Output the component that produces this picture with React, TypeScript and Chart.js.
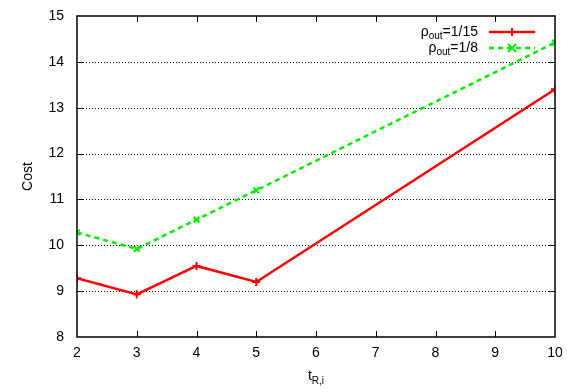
import React, { useEffect, useRef } from "react";
import { Chart, registerables } from "chart.js";

Chart.register(...registerables);

const xValues = [2, 3, 4, 5, 10];
const rho15Values = [9.28, 8.93, 9.55, 9.2, 13.4];
const rho8Values = [10.28, 9.92, 10.56, 11.2, 14.42];
const seriesNames = ["=1/15", "=1/8"];
const yTitle = "Cost";

const FONT = "'Liberation Sans', Arial, sans-serif";
const RED = "#ff0000";
const GREEN = "#00ee00";

const gridPlugin = {
  id: "dotgrid",
  beforeDatasetsDraw(chart: any) {
    const { ctx, chartArea: a, scales } = chart;
    ctx.save();
    ctx.strokeStyle = "#000";
    ctx.lineWidth = 1;
    ctx.setLineDash([1, 2]);
    ctx.beginPath();
    for (let v = 9; v < 15; v++) {
      const y = Math.round(scales.y.getPixelForValue(v)) + 0.5;
      ctx.moveTo(a.left, y);
      ctx.lineTo(a.right, y);
    }
    ctx.stroke();
    ctx.restore();
  },
};

const framePlugin = {
  id: "frame",
  afterDatasetsDraw(chart: any) {
    const { ctx, chartArea: a, scales } = chart;
    ctx.save();
    ctx.strokeStyle = "#000";
    ctx.lineWidth = 1;
    const tl = 6;
    ctx.beginPath();
    for (let v = 3; v < 10; v++) {
      const x = Math.round(scales.x.getPixelForValue(v)) + 0.5;
      ctx.moveTo(x, a.bottom);
      ctx.lineTo(x, a.bottom - tl);
      ctx.moveTo(x, a.top);
      ctx.lineTo(x, a.top + tl);
    }
    for (let v = 9; v < 15; v++) {
      const y = Math.round(scales.y.getPixelForValue(v)) + 0.5;
      ctx.moveTo(a.left, y);
      ctx.lineTo(a.left + tl, y);
      ctx.moveTo(a.right, y);
      ctx.lineTo(a.right - tl, y);
    }
    ctx.stroke();
    ctx.lineWidth = 1.5;
    ctx.strokeRect(a.left, a.top, a.right - a.left, a.bottom - a.top);

    // legend
    const rows = [
      { label: seriesNames[0], color: RED, dash: [], style: "cross", y: 32 },
      { label: seriesNames[1], color: GREEN, dash: [5, 4], style: "crossRot", y: 48 },
    ];
    const textRight = 478;
    const lx1 = 489;
    const lx2 = 535;
    rows.forEach((r) => {
      ctx.fillStyle = "#000";
      ctx.textBaseline = "middle";
      ctx.font = `14px ${FONT}`;
      const mainW = ctx.measureText(r.label).width;
      ctx.font = `10px ${FONT}`;
      const subW = ctx.measureText("out").width;
      ctx.font = `14px ${FONT}`;
      const rhoW = ctx.measureText("ρ").width;
      let x = textRight - mainW - subW - rhoW;
      ctx.textAlign = "left";
      ctx.fillText("ρ", x, r.y);
      x += rhoW;
      ctx.font = `10px ${FONT}`;
      ctx.fillText("out", x, r.y + 4);
      x += subW;
      ctx.font = `14px ${FONT}`;
      ctx.fillText(r.label, x, r.y);
      ctx.strokeStyle = r.color;
      ctx.lineWidth = 2.5;
      ctx.setLineDash(r.dash);
      ctx.beginPath();
      ctx.moveTo(lx1, r.y);
      ctx.lineTo(lx2, r.y);
      ctx.stroke();
      ctx.setLineDash([]);
      const mx = (lx1 + lx2) / 2;
      ctx.lineWidth = 2;
      ctx.beginPath();
      const s = 4;
      if (r.style === "cross") {
        ctx.moveTo(mx - s, r.y);
        ctx.lineTo(mx + s, r.y);
        ctx.moveTo(mx, r.y - s);
        ctx.lineTo(mx, r.y + s);
      } else {
        ctx.moveTo(mx - s, r.y - s);
        ctx.lineTo(mx + s, r.y + s);
        ctx.moveTo(mx - s, r.y + s);
        ctx.lineTo(mx + s, r.y - s);
      }
      ctx.stroke();
    });

    // x title t_{R,i}
    ctx.fillStyle = "#000";
    ctx.textAlign = "left";
    ctx.textBaseline = "middle";
    ctx.font = `14px ${FONT}`;
    const tW = ctx.measureText("t").width;
    ctx.font = `10px ${FONT}`;
    const sW = ctx.measureText("R,i").width;
    const cx = (a.left + a.right) / 2;
    const ty = 376;
    const x0 = cx - (tW + sW) / 2;
    ctx.font = `14px ${FONT}`;
    ctx.fillText("t", x0, ty);
    ctx.font = `10px ${FONT}`;
    ctx.fillText("R,i", x0 + tW, ty + 5);

    // y title
    ctx.save();
    ctx.translate(28, (a.top + a.bottom) / 2);
    ctx.rotate(-Math.PI / 2);
    ctx.textAlign = "center";
    ctx.textBaseline = "middle";
    ctx.font = `14px ${FONT}`;
    ctx.fillText(yTitle, 0, 0);
    ctx.restore();
    ctx.restore();
  },
};

const zeroPad = (s: any) => {
  s.paddingTop = 0;
  s.paddingBottom = 0;
  s.paddingLeft = 0;
  s.paddingRight = 0;
};

export default function App() {
  const ref = useRef<HTMLCanvasElement>(null);
  useEffect(() => {
    document.body.style.margin = "0";
    const chart = new Chart(ref.current!, {
      type: "line",
      data: {
        datasets: [
          {
            label: "rho15",
            data: xValues.map((x, i) => ({ x, y: rho15Values[i] })),
            borderColor: RED,
            backgroundColor: RED,
            borderWidth: 2.5,
            pointStyle: "cross",
            pointRadius: 4,
            pointBorderWidth: 2,
            tension: 0,
          },
          {
            label: "rho8",
            data: xValues.map((x, i) => ({ x, y: rho8Values[i] })),
            borderColor: GREEN,
            backgroundColor: GREEN,
            borderWidth: 2.5,
            borderDash: [5, 4],
            pointStyle: "crossRot",
            pointRadius: 4,
            pointBorderWidth: 2,
            tension: 0,
          },
        ],
      },
      options: {
        animation: false,
        responsive: false,
        layout: { padding: { top: 16, right: 12, left: 0, bottom: 0 } },
        plugins: { legend: { display: false }, tooltip: { enabled: false } },
        scales: {
          x: {
            type: "linear",
            min: 2,
            max: 10,
            ticks: {
              stepSize: 1,
              color: "#000",
              font: { family: FONT, size: 14 },
              padding: 8,
              maxRotation: 0,
            },
            grid: { display: false, drawTicks: false },
            border: { display: false },
            afterFit: (s: any) => {
              s.height = 55;
              zeroPad(s);
            },
          },
          y: {
            min: 8,
            max: 15,
            ticks: {
              stepSize: 1,
              color: "#000",
              font: { family: FONT, size: 14 },
              padding: 13,
            },
            grid: { display: false, drawTicks: false },
            border: { display: false },
            afterFit: (s: any) => {
              s.width = 77;
              zeroPad(s);
            },
          },
        },
      },
      plugins: [gridPlugin, framePlugin],
    } as any);
    return () => chart.destroy();
  }, []);
  return (
    <div style={{ width: 567, height: 392 }}>
      <canvas ref={ref} width={567} height={392} style={{ display: "block" }} />
    </div>
  );
}
